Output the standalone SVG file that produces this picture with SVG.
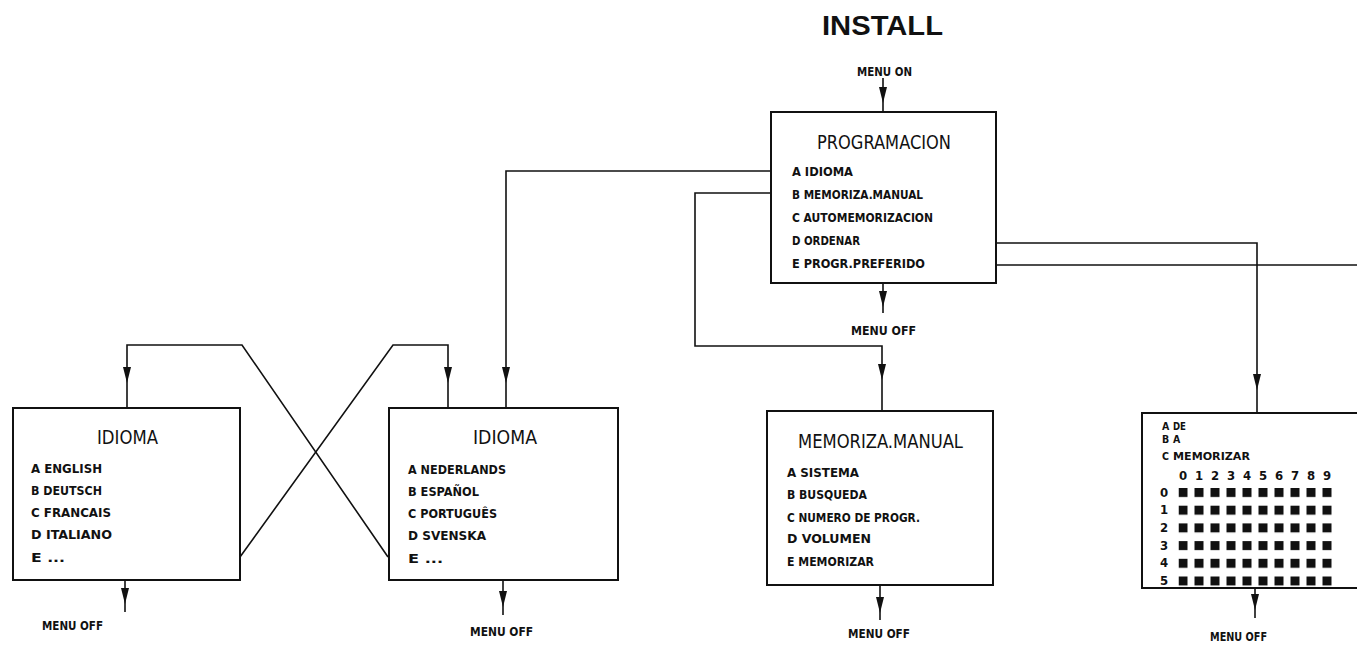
<svg xmlns="http://www.w3.org/2000/svg" xmlns:xlink="http://www.w3.org/1999/xlink" width="1369" height="651" viewBox="0 0 1369 651">
<style>
.box{fill:#fff;stroke:#111;stroke-width:2}
.ln{fill:none;stroke:#111;stroke-width:1.6}
.ttl{font-family:"DejaVu Sans Condensed","DejaVu Sans","Liberation Sans",sans-serif;font-size:20px;fill:#111}
.it{font-family:"DejaVu Sans Condensed","DejaVu Sans","Liberation Sans",sans-serif;font-size:13px;font-weight:bold;fill:#111}
.gt{font-family:"DejaVu Sans Condensed","DejaVu Sans","Liberation Sans",sans-serif;font-size:10.5px;font-weight:bold;fill:#111}
.lbl{font-family:"DejaVu Sans Condensed","DejaVu Sans","Liberation Sans",sans-serif;font-size:12.5px;font-weight:bold;fill:#111}
.big{font-family:"Liberation Sans",Arial,sans-serif;font-size:27px;font-weight:bold;fill:#111}
.dg{font-family:"DejaVu Sans Condensed","DejaVu Sans","Liberation Sans",sans-serif;font-size:13px;font-weight:bold;fill:#111;text-anchor:middle}
</style>
<defs>
<path id="ah" d="M-4,-16 L4,-16 L0,0 Z" fill="#111"/>
<pattern id="sq" patternUnits="userSpaceOnUse" x="1178.5" y="488" width="16" height="17.7">
<rect x="0" y="0" width="9" height="9" fill="#111"/>
</pattern>
</defs>
<rect width="1369" height="651" fill="#fff"/>

<text class="big" x="822" y="35" textLength="121" lengthAdjust="spacingAndGlyphs">INSTALL</text>
<text class="lbl" x="857" y="76" textLength="55" lengthAdjust="spacingAndGlyphs">MENU ON</text>

<g id="connectors">
<path class="ln" d="M883,78 V112"/>
<path class="ln" d="M883,283 V313"/>
<path class="ln" d="M771,171 H506 V408"/>
<path class="ln" d="M771,193 H695 V346 H882 V411"/>
<path class="ln" d="M996,243 H1257 V413"/>
<path class="ln" d="M996,265 H1357"/>
<path class="ln" d="M388,557 L242,345 H127 V408"/>
<path class="ln" d="M240,557 L393,345 H448 V408"/>
<path class="ln" d="M125,580 V612"/>
<path class="ln" d="M503,580 V615"/>
<path class="ln" d="M880,585 V620"/>
<path class="ln" d="M1255,588 V618"/>
<use xlink:href="#ah" x="883" y="103"/>
<use xlink:href="#ah" x="883" y="307"/>
<use xlink:href="#ah" x="506" y="383"/>
<use xlink:href="#ah" x="448" y="383"/>
<use xlink:href="#ah" x="127" y="383"/>
<use xlink:href="#ah" x="882" y="380"/>
<use xlink:href="#ah" x="1257" y="390"/>
<use xlink:href="#ah" x="125" y="604"/>
<use xlink:href="#ah" x="503" y="607"/>
<use xlink:href="#ah" x="880" y="613"/>
<use xlink:href="#ah" x="1255" y="610"/>
</g>

<g id="programacion">
<rect class="box" x="771" y="112" width="225" height="171"/>
<text class="ttl" x="817" y="149" textLength="134" lengthAdjust="spacingAndGlyphs">PROGRAMACION</text>
<text class="it" x="792" y="176" textLength="61" lengthAdjust="spacingAndGlyphs">A IDIOMA</text>
<text class="it" x="792" y="199" textLength="131" lengthAdjust="spacingAndGlyphs">B MEMORIZA.MANUAL</text>
<text class="it" x="792" y="222" textLength="141" lengthAdjust="spacingAndGlyphs">C AUTOMEMORIZACION</text>
<text class="it" x="792" y="245" textLength="68" lengthAdjust="spacingAndGlyphs">D ORDENAR</text>
<text class="it" x="792" y="268" textLength="133" lengthAdjust="spacingAndGlyphs">E PROGR.PREFERIDO</text>
<text class="lbl" x="851" y="335" textLength="65" lengthAdjust="spacingAndGlyphs">MENU OFF</text>
</g>

<g id="idioma1">
<rect class="box" x="13" y="408" width="227" height="172"/>
<text class="ttl" x="97" y="444" textLength="61" lengthAdjust="spacingAndGlyphs">IDIOMA</text>
<text class="it" x="31" y="473" textLength="71" lengthAdjust="spacingAndGlyphs">A ENGLISH</text>
<text class="it" x="31" y="495" textLength="71" lengthAdjust="spacingAndGlyphs">B DEUTSCH</text>
<text class="it" x="31" y="517" textLength="80" lengthAdjust="spacingAndGlyphs">C FRANCAIS</text>
<text class="it" x="31" y="539" textLength="81" lengthAdjust="spacingAndGlyphs">D ITALIANO</text>
<text class="it" x="31" y="562" textLength="34" lengthAdjust="spacingAndGlyphs">E ...</text>
<text class="lbl" x="42" y="630" textLength="61" lengthAdjust="spacingAndGlyphs">MENU OFF</text>
</g>

<g id="idioma2">
<rect class="box" x="389" y="408" width="229" height="172"/>
<text class="ttl" x="473" y="444" textLength="64" lengthAdjust="spacingAndGlyphs">IDIOMA</text>
<text class="it" x="408" y="474" textLength="98" lengthAdjust="spacingAndGlyphs">A NEDERLANDS</text>
<text class="it" x="408" y="496" textLength="71" lengthAdjust="spacingAndGlyphs">B ESPAÑOL</text>
<text class="it" x="408" y="518" textLength="89" lengthAdjust="spacingAndGlyphs">C PORTUGUÊS</text>
<text class="it" x="408" y="540" textLength="78" lengthAdjust="spacingAndGlyphs">D SVENSKA</text>
<text class="it" x="408" y="563" textLength="35" lengthAdjust="spacingAndGlyphs">E ...</text>
<text class="lbl" x="470" y="636" textLength="63" lengthAdjust="spacingAndGlyphs">MENU OFF</text>
</g>

<g id="memoriza-manual">
<rect class="box" x="767" y="411" width="226" height="174"/>
<text class="ttl" x="798" y="448" textLength="165" lengthAdjust="spacingAndGlyphs">MEMORIZA.MANUAL</text>
<text class="it" x="787" y="477" textLength="72" lengthAdjust="spacingAndGlyphs">A SISTEMA</text>
<text class="it" x="787" y="499" textLength="80" lengthAdjust="spacingAndGlyphs">B BUSQUEDA</text>
<text class="it" x="787" y="522" textLength="133" lengthAdjust="spacingAndGlyphs">C NUMERO DE PROGR.</text>
<text class="it" x="787" y="543" textLength="84" lengthAdjust="spacingAndGlyphs">D VOLUMEN</text>
<text class="it" x="787" y="566" textLength="87" lengthAdjust="spacingAndGlyphs">E MEMORIZAR</text>
<text class="lbl" x="848" y="638" textLength="62" lengthAdjust="spacingAndGlyphs">MENU OFF</text>
</g>

<g id="memorizar-grid">
<path class="box" d="M1357,413 H1142 V588 H1357"/>
<text class="gt" x="1162" y="430">A</text>
<text class="gt" x="1173" y="430" textLength="13" lengthAdjust="spacingAndGlyphs">DE</text>
<text class="gt" x="1162" y="443">B</text>
<text class="gt" x="1173" y="443">A</text>
<text class="gt" x="1162" y="460">C</text>
<text class="gt" x="1173" y="460" textLength="77" lengthAdjust="spacingAndGlyphs">MEMORIZAR</text>
<text class="dg" y="480"><tspan x="1183">0</tspan><tspan x="1199">1</tspan><tspan x="1215">2</tspan><tspan x="1231">3</tspan><tspan x="1247">4</tspan><tspan x="1263">5</tspan><tspan x="1279">6</tspan><tspan x="1295">7</tspan><tspan x="1311">8</tspan><tspan x="1327">9</tspan></text>
<text class="dg" x="1164" y="497">0</text>
<text class="dg" x="1164" y="514">1</text>
<text class="dg" x="1164" y="532">2</text>
<text class="dg" x="1164" y="550">3</text>
<text class="dg" x="1164" y="567">4</text>
<text class="dg" x="1164" y="585">5</text>
<rect x="1178.5" y="488" width="154" height="100" fill="url(#sq)"/>
<text class="lbl" x="1210" y="641" textLength="57" lengthAdjust="spacingAndGlyphs">MENU OFF</text>
</g>
</svg>
